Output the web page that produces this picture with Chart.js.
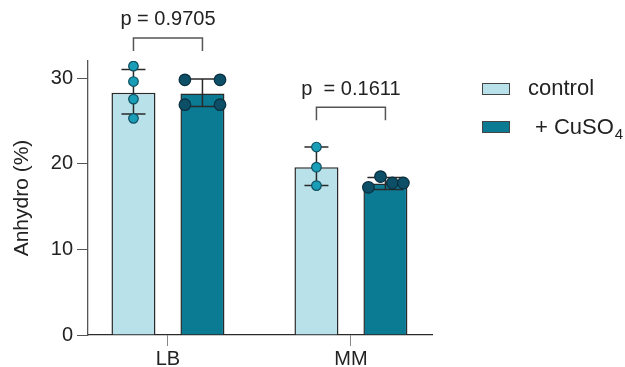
<!DOCTYPE html>
<html>
<head>
<meta charset="utf-8">
<script src="https://cdn.jsdelivr.net/npm/chart.js@4.4.1/dist/chart.umd.min.js"></script>
<style>
  html, body { margin: 0; padding: 0; background: #fff; }
  #wrap { width: 625px; height: 367px; position: relative; }
</style>
</head>
<body>
<div id="wrap"><canvas id="chart"></canvas></div>
<script>
// data
const categories = ['LB', 'MM'];
const controlMeans = [28.3, 19.6];
const cuMeans = [28.2, 17.7];
const controlErrLow = [25.8, 17.45];
const controlErrHigh = [31.0, 21.95];
const cuErrLow = [26.7, 17.0];
const cuErrHigh = [29.9, 18.4];
const controlPoints = [[31.4, 29.6, 27.55, 25.3], [21.95, 19.6, 17.45]];
const controlJitter = [[0, 0, 0, 0], [0, 0, 0]];
const cuPoints = [[29.8, 29.8, 26.9, 26.9], [18.5, 17.25, 17.75, 17.75]];
const cuJitter = [[-0.096, 0.096, -0.096, 0.096], [-0.027, -0.093, 0.038, 0.098]];
const pLabels = ['p = 0.9705', 'p  = 0.1611'];
const bracketLevels = [34.7, 26.6];
const yTicks = [0, 10, 20, 30];

const FONT = "'Liberation Sans', Arial, sans-serif";
const LIGHT = '#b8e1e9';
const DARK = '#0b7b94';
const catPct = 0.754;
const groupOffset = catPct / 4;

function dots(points, jitter, side) {
    const out = [];
    points.forEach((vals, i) => {
        vals.forEach((v, j) => {
            out.push({ x: i + 1 + side * groupOffset + jitter[i][j], y: v });
        });
    });
    return out;
}

const errorBars = {
    id: 'errorBars',
    afterDatasetDraw(chart, args) {
        const idx = args.index;
        if (idx > 1) return;
        const lows = idx === 0 ? controlErrLow : cuErrLow;
        const highs = idx === 0 ? controlErrHigh : cuErrHigh;
        const cap = idx === 0 ? 12 : 18;
        const y = chart.scales.y;
        const ctx = chart.ctx;
        ctx.save();
        ctx.strokeStyle = '#2a2a2a';
        ctx.lineWidth = 1.5;
        args.meta.data.forEach((bar, i) => {
            const x = bar.x;
            const yl = y.getPixelForValue(lows[i]);
            const yh = y.getPixelForValue(highs[i]);
            ctx.beginPath();
            ctx.moveTo(x, yl); ctx.lineTo(x, yh);
            ctx.moveTo(x - cap, yl); ctx.lineTo(x + cap, yl);
            ctx.moveTo(x - cap, yh); ctx.lineTo(x + cap, yh);
            ctx.stroke();
        });
        ctx.restore();
    }
};

const annotations = {
    id: 'annotations',
    afterDraw(chart) {
        const ctx = chart.ctx;
        const y = chart.scales.y;
        const m0 = chart.getDatasetMeta(0).data;
        const m1 = chart.getDatasetMeta(1).data;
        ctx.save();
        // brackets + p values
        categories.forEach((c, i) => {
            const x0 = m0[i].x, x1 = m1[i].x;
            const yb = y.getPixelForValue(bracketLevels[i]);
            ctx.strokeStyle = '#555';
            ctx.lineWidth = 1.5;
            ctx.beginPath();
            ctx.moveTo(x0, yb + 13); ctx.lineTo(x0, yb);
            ctx.lineTo(x1, yb); ctx.lineTo(x1, yb + 13);
            ctx.stroke();
            ctx.fillStyle = '#222';
            ctx.font = '20px ' + FONT;
            ctx.textAlign = 'center';
            ctx.textBaseline = 'middle';
            ctx.fillText(pLabels[i], (x0 + x1) / 2, yb - 18);
        });
        // legend
        const items = [{ fill: LIGHT, y: 89 }, { fill: DARK, y: 127 }];
        items.forEach(it => {
            ctx.fillStyle = it.fill;
            ctx.fillRect(482, it.y - 6, 28, 12);
            ctx.strokeStyle = '#444';
            ctx.lineWidth = 1;
            ctx.strokeRect(482.5, it.y - 5.5, 27, 11);
        });
        ctx.fillStyle = '#222';
        ctx.textAlign = 'left';
        ctx.textBaseline = 'middle';
        ctx.font = '22px ' + FONT;
        ctx.fillText('control', 528, 89);
        const t = '+ CuSO';
        ctx.fillText(t, 535, 128);
        const w = ctx.measureText(t).width;
        ctx.font = '15px ' + FONT;
        ctx.fillText('4', 535 + w + 1, 135);
        ctx.restore();
    }
};

new Chart(document.getElementById('chart'), {
    data: {
        datasets: [
            {
                type: 'bar',
                label: 'control',
                data: controlMeans.map((v, i) => ({ x: i + 1, y: v })),
                backgroundColor: LIGHT,
                borderColor: '#2a2a2a',
                borderWidth: 1.5,
                categoryPercentage: catPct,
                barPercentage: 0.638,
                order: 2
            },
            {
                type: 'bar',
                label: '+ CuSO4',
                data: cuMeans.map((v, i) => ({ x: i + 1, y: v })),
                backgroundColor: DARK,
                borderColor: '#2a2a2a',
                borderWidth: 1.5,
                categoryPercentage: catPct,
                barPercentage: 0.638,
                order: 2
            },
            {
                type: 'scatter',
                label: 'control points',
                data: dots(controlPoints, controlJitter, -1),
                pointRadius: 4.8,
                pointBackgroundColor: '#1a9db6',
                pointBorderColor: '#0f4f60',
                pointBorderWidth: 1.2,
                order: 1
            },
            {
                type: 'scatter',
                label: 'CuSO4 points',
                data: dots(cuPoints, cuJitter, 1),
                pointRadius: 5.8,
                pointBackgroundColor: '#0d4f66',
                pointBorderColor: '#0a3040',
                pointBorderWidth: 1.2,
                order: 1
            }
        ]
    },
    options: {
        responsive: true,
        maintainAspectRatio: false,
        animation: false,
        layout: { padding: { top: 61, right: 193, left: 0, bottom: 0 } },
        plugins: {
            legend: { display: false },
            tooltip: { enabled: false }
        },
        scales: {
            x: {
                type: 'linear',
                min: 0.563,
                max: 2.443,
                offset: false,
                afterBuildTicks: scale => {
                    scale.ticks = categories.map((c, i) => ({ value: i + 1 }));
                },
                afterFit: scale => { scale.height = 32; },
                ticks: {
                    callback: v => categories[Math.round(v) - 1],
                    color: '#222',
                    font: { size: 20, family: FONT },
                    padding: 1,
                    maxRotation: 0
                },
                grid: { drawOnChartArea: false, offset: false, tickLength: 11, color: '#888' },
                border: { color: '#2a2a2a', width: 1.3 }
            },
            y: {
                min: 0,
                max: 32,
                afterBuildTicks: scale => {
                    scale.ticks = yTicks.map(v => ({ value: v }));
                },
                afterFit: scale => { scale.width = 88; },
                ticks: {
                    color: '#222',
                    font: { size: 20, family: FONT },
                    padding: 4
                },
                grid: { drawOnChartArea: false, tickLength: 11, color: '#555' },
                border: { color: '#555', width: 1.3 },
                title: {
                    display: true,
                    text: 'Anhydro (%)',
                    color: '#222',
                    font: { size: 21, family: FONT },
                    padding: { top: 10 }
                }
            }
        }
    },
    plugins: [errorBars, annotations]
});
</script>
</body>
</html>
